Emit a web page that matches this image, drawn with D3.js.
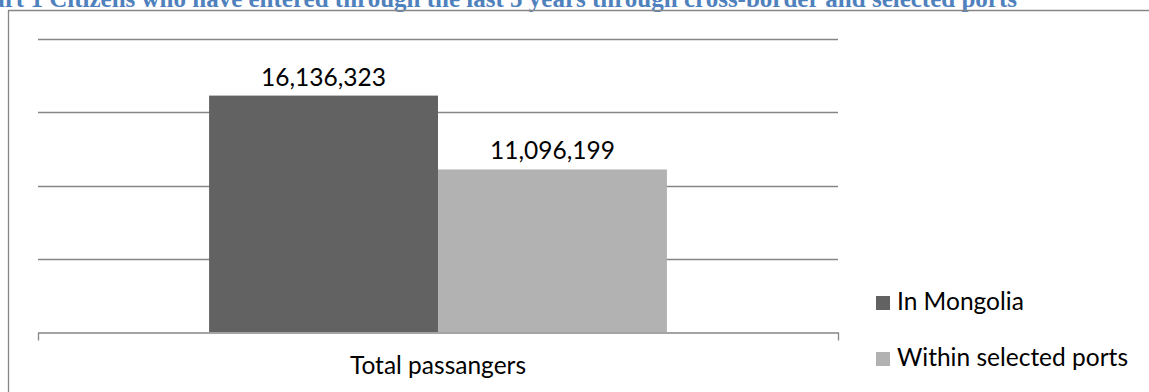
<!DOCTYPE html>
<html>
<head>
<meta charset="utf-8">
<script src="https://cdn.jsdelivr.net/npm/d3@7"></script>
<style>
  html, body { margin: 0; padding: 0; background: #fff; }
  svg { display: block; }
</style>
</head>
<body>
<svg id="chart" width="1149" height="392"></svg>
<script>
// Passenger totals over the last five years
const categories = ["Total passangers"];
const seriesNames = ["In Mongolia", "Within selected ports"];
const seriesValues = [16136323, 11096199];
const seriesColors = ["#626262", "#b2b2b2"];
const yTicks = [0, 5000000, 10000000, 15000000, 20000000];
const titleText = "Chart 1 Citizens who have entered through the last 5 years through cross-border and selected ports";

const svg = d3.select("#chart");
const W = 1149, H = 392;
const plot = { left: 38, right: 838, top: 39, bottom: 332 };
const gridColor = "#868686";
const labelFont = "Lato, 'Open Sans', sans-serif";
const labelSize = 24.5;

// Caption above the chart frame
svg.append("text")
  .attr("x", 1017)
  .attr("y", 7)
  .attr("text-anchor", "end")
  .attr("font-family", "'Liberation Serif', 'Times New Roman', serif")
  .attr("font-weight", "bold")
  .attr("font-size", 25)
  .attr("fill", "#4f81bd")
  .text(titleText);

// Chart frame (left and top edges visible)
svg.append("path")
  .attr("d", `M8.5,${H}V10.5H${W}`)
  .attr("fill", "none")
  .attr("stroke", gridColor)
  .attr("stroke-width", 1.3);

const y = d3.scaleLinear().domain([0, 20000000]).range([plot.bottom, plot.top]);
const x0 = d3.scaleBand().domain(categories).range([plot.left, plot.right]).padding(0.272);
const x1 = d3.scaleBand().domain(seriesNames).range([0, x0.bandwidth()]).padding(0);

// Horizontal gridlines
svg.append("g")
  .selectAll("line")
  .data(yTicks.filter(d => d > 0))
  .join("line")
  .attr("x1", plot.left)
  .attr("x2", plot.right)
  .attr("y1", d => Math.round(y(d)) + 0.5)
  .attr("y2", d => Math.round(y(d)) + 0.5)
  .attr("stroke", gridColor)
  .attr("stroke-width", 1.3);

// Bars
const groups = svg.append("g")
  .selectAll("g")
  .data(categories)
  .join("g")
  .attr("transform", d => `translate(${x0(d)},0)`);

groups.selectAll("rect")
  .data(() => seriesNames.map((s, i) => ({ name: s, value: seriesValues[i], color: seriesColors[i] })))
  .join("rect")
  .attr("x", d => x1(d.name))
  .attr("y", d => y(d.value))
  .attr("width", x1.bandwidth())
  .attr("height", d => y(0) - y(d.value))
  .attr("fill", d => d.color);

// Value labels
groups.selectAll("text.value")
  .data(() => seriesNames.map((s, i) => ({ name: s, value: seriesValues[i] })))
  .join("text")
  .attr("class", "value")
  .attr("x", d => x1(d.name) + x1.bandwidth() / 2)
  .attr("y", d => y(d.value) - 10)
  .attr("text-anchor", "middle")
  .attr("font-family", labelFont)
  .attr("font-size", labelSize)
  .attr("fill", "#000")
  .text(d => d3.format(",")(d.value));

// Category axis with outer ticks
const xAxis = svg.append("g")
  .attr("transform", `translate(0,${Math.round(plot.bottom) + 0.5})`)
  .call(d3.axisBottom(x0).tickSizeInner(0).tickSizeOuter(8).tickFormat(""));
xAxis.select(".domain").attr("stroke", gridColor).attr("stroke-width", 1.3);
xAxis.selectAll(".tick").remove();

svg.append("g")
  .selectAll("text")
  .data(categories)
  .join("text")
  .attr("x", d => x0(d) + x0.bandwidth() / 2)
  .attr("y", 374)
  .attr("text-anchor", "middle")
  .attr("font-family", labelFont)
  .attr("font-size", labelSize)
  .attr("fill", "#000")
  .text(d => d);

// Legend
const legend = svg.append("g")
  .selectAll("g")
  .data(seriesNames)
  .join("g")
  .attr("transform", (d, i) => `translate(876,${296 + i * 56})`);

legend.append("rect")
  .attr("width", 14)
  .attr("height", 14)
  .attr("fill", (d, i) => seriesColors[i]);

legend.append("text")
  .attr("x", 21)
  .attr("y", 14)
  .attr("font-family", labelFont)
  .attr("font-size", labelSize)
  .attr("fill", "#000")
  .text(d => d);
</script>
</body>
</html>
